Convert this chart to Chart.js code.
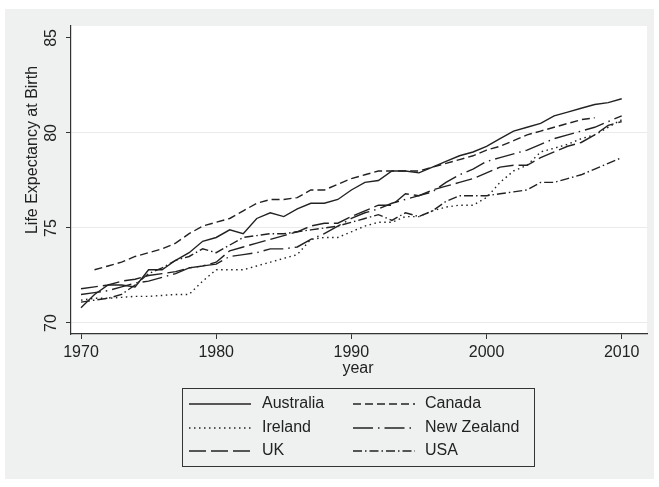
<!DOCTYPE html>
<html>
<head>
<meta charset="utf-8">
<script src="https://cdn.jsdelivr.net/npm/chart.js"></script>
<style>
  html, body { margin: 0; padding: 0; background: #fff; }
  #wrap { width: 659px; height: 487px; }
</style>
</head>
<body>
<div id="wrap"><canvas id="lifeChart" width="659" height="487"></canvas></div>
<script>
const years = [];
for (let y = 1970; y <= 2010; y++) years.push(y);

const australia = [70.8, 71.5, 72.0, 72.0, 71.9, 72.8, 72.8, 73.3, 73.7, 74.3,
    74.5, 74.9, 74.7, 75.5, 75.8, 75.6, 76.0, 76.3, 76.3, 76.5,
    77.0, 77.4, 77.5, 78.0, 78.0, 77.9, 78.2, 78.5, 78.8, 79.0,
    79.3, 79.7, 80.1, 80.3, 80.5, 80.9, 81.1, 81.3, 81.5, 81.6, 81.8];
const canada = [null, 72.8, 73.0, 73.2, 73.5, 73.7, 73.9, 74.2, 74.7, 75.1,
    75.3, 75.5, 75.9, 76.3, 76.5, 76.5, 76.6, 77.0, 77.0, 77.3,
    77.6, 77.8, 78.0, 78.0, 78.0, 78.0, 78.2, 78.4, 78.6, 78.8,
    79.1, 79.3, 79.6, 79.9, 80.1, 80.3, 80.5, 80.7, 80.8, null, null];
const ireland = [71.2, 71.3, 71.3, 71.35, 71.4, 71.4, 71.45, 71.5, 71.5, 72.2,
    72.8, 72.8, 72.8, 73.0, 73.2, 73.4, 73.6, 74.4, 74.5, 74.5,
    74.8, 75.1, 75.3, 75.3, 75.6, 75.6, 75.9, 76.1, 76.2, 76.2,
    76.6, 77.4, 78.0, 78.3, 79.0, 79.2, 79.4, 79.7, 79.9, 80.3, 80.7];
const newZealand = [71.5, 71.6, 71.7, 71.9, 72.1, 72.2, 72.4, 72.6, 72.9, 73.0,
    73.1, 73.5, 73.6, 73.7, 73.9, 73.9, 74.0, 74.4, 74.7, 75.1,
    75.5, 75.8, 76.0, 76.3, 76.5, 76.7, 76.9, 77.4, 77.8, 78.1,
    78.5, 78.7, 78.9, 79.1, 79.4, 79.7, 79.9, 80.1, 80.3, 80.6, 80.9];
const uk = [71.8, 71.9, 72.0, 72.2, 72.3, 72.5, 72.6, 72.7, 72.9, 73.0,
    73.2, 73.8, 74.0, 74.2, 74.4, 74.6, 74.8, 75.1, 75.25, 75.25,
    75.6, 75.9, 76.2, 76.2, 76.8, 76.7, 77.0, 77.2, 77.4, 77.6,
    77.9, 78.2, 78.3, 78.3, 78.7, 79.0, 79.3, 79.5, 79.9, 80.4, 80.6];
const usa = [71.1, 71.2, 71.3, 71.5, 72.0, 72.6, 72.9, 73.3, 73.5, 73.9,
    73.7, 74.1, 74.5, 74.6, 74.7, 74.7, 74.8, 74.9, 75.0, 75.1,
    75.3, 75.5, 75.7, 75.4, 75.8, 75.6, 75.9, 76.4, 76.7, 76.7,
    76.7, 76.8, 76.9, 77.0, 77.4, 77.4, 77.6, 77.8, 78.1, 78.4, 78.7];

const yTicks = [70, 75, 80, 85];
const xTicks = [1970, 1980, 1990, 2000, 2010];

const FONT = '"Liberation Sans", Arial, sans-serif';
const INK = '#222';

const series = [
    { label: 'Australia', values: australia, dash: [] },
    { label: 'Canada', values: canada, dash: [8, 4] },
    { label: 'Ireland', values: ireland, dash: [1.5, 3.5] },
    { label: 'New Zealand', values: newZealand, dash: [20, 5, 1.5, 5] },
    { label: 'UK', values: uk, dash: [17, 5] },
    { label: 'USA', values: usa, dash: [9, 3, 1.5, 3] }
];

const datasets = series.map(s => ({
    label: s.label,
    data: years.map((yr, i) => ({ x: yr, y: s.values[i] })).filter(p => p.y !== null),
    borderColor: INK,
    borderWidth: 1.4,
    borderDash: s.dash,
    pointRadius: 0,
    fill: false,
    tension: 0
}));

const decor = {
    id: 'decor',
    beforeDraw(chart) {
        const c = chart.ctx, a = chart.chartArea;
        c.save();
        c.fillStyle = '#fff';
        c.fillRect(0, 0, chart.width, chart.height);
        c.fillStyle = '#eff1f0';
        c.fillRect(5, 9, 649, 470);
        c.fillStyle = '#fff';
        c.fillRect(a.left, a.top, a.right - a.left, a.bottom - a.top);
        c.restore();
    },
    afterDraw(chart) {
        const c = chart.ctx;
        const ys = chart.scales.y;
        c.save();
        c.fillStyle = INK;
        c.font = '16px ' + FONT;
        c.textAlign = 'center';
        c.textBaseline = 'middle';
        // rotated y tick labels
        yTicks.forEach(v => {
            c.save();
            c.translate(52, ys.getPixelForValue(v));
            c.rotate(-Math.PI / 2);
            c.fillText(String(v), 0, 0);
            c.restore();
        });
        // y title
        c.save();
        c.translate(33, 150);
        c.rotate(-Math.PI / 2);
        c.fillText('Life Expectancy at Birth', 0, 0);
        c.restore();
        // x title
        c.fillText('year', 358, 369);

        // legend
        c.strokeStyle = '#333';
        c.lineWidth = 1;
        c.setLineDash([]);
        c.strokeRect(182.5, 388.5, 352, 78);
        const rows = [404, 428, 451];
        const cols = [[189, 251, 262], [353, 415, 425]];
        series.forEach((s, i) => {
            const col = cols[i % 2], ry = rows[Math.floor(i / 2)];
            c.beginPath();
            c.setLineDash(s.dash);
            c.lineWidth = 1.4;
            c.strokeStyle = INK;
            c.moveTo(col[0], ry);
            c.lineTo(col[1], ry);
            c.stroke();
            c.setLineDash([]);
            c.textAlign = 'left';
            c.fillText(s.label, col[2], ry);
        });
        c.restore();
    }
};

new Chart(document.getElementById('lifeChart'), {
    type: 'line',
    data: { datasets },
    plugins: [decor],
    options: {
        responsive: false,
        animation: false,
        layout: { padding: { top: 26, right: 12, bottom: 0, left: 0 } },
        plugins: {
            legend: { display: false },
            tooltip: { enabled: false }
        },
        scales: {
            x: {
                type: 'linear',
                min: 1969.26,
                max: 2011.87,
                afterFit: s => { s.height = 153; },
                afterBuildTicks: s => { s.ticks = xTicks.map(v => ({ value: v })); },
                grid: {
                    drawOnChartArea: false,
                    tickColor: '#333',
                    tickLength: 5
                },
                border: { display: true, color: '#333', width: 1.2 },
                ticks: {
                    color: INK,
                    font: { size: 16, family: FONT },
                    padding: 4,
                    maxRotation: 0,
                    callback: v => String(v)
                }
            },
            y: {
                type: 'linear',
                min: 69.42,
                max: 85.63,
                afterFit: s => { s.width = 71; },
                afterBuildTicks: s => { s.ticks = yTicks.map(v => ({ value: v })); },
                grid: {
                    color: ctx => (ctx.tick && ctx.tick.value === 85) ? 'rgba(0,0,0,0)' : '#e9eaea',
                    tickColor: '#333',
                    tickLength: 5
                },
                border: { display: true, color: '#333', width: 1.2 },
                ticks: { display: false }
            }
        }
    }
});
</script>
</body>
</html>
